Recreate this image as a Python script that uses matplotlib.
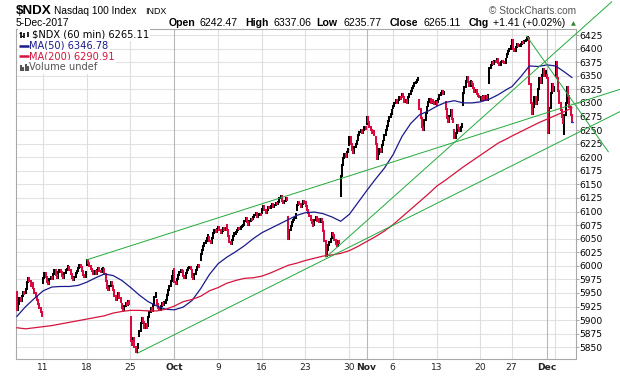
import matplotlib
matplotlib.use("Agg")
import matplotlib.pyplot as plt
import numpy as np
from matplotlib.lines import Line2D
from matplotlib.patches import Rectangle

# ---------------- data ----------------
# first-bar open of each trading day (Sep 6 .. Dec 5, 2017)
day_open = [5952, 5950, 5958,
            5968, 5980, 5992, 5998, 5990,
            6002, 5990, 5994, 5962, 5930,
            5906, 5870, 5890, 5938, 5932,
            5995, 5990, 5992, 6010, 6054,
            6068, 6075, 6058, 6076, 6086,
            6098, 6106, 6118, 6090, 6102,
            6118, 6076, 6080, 6052, 6128,
            6222, 6232, 6262, 6238, 6232,
            6290, 6312, 6316, 6305, 6295,
            6296, 6302, 6250, 6296, 6338,
            6306, 6336, 6380, 6384,
            6408, 6404, 6420, 6306, 6352,
            6350, 6242.47]
# number of 60-min bars per day (Nov 24 half session)
day_bars = [7] * 56 + [4] + [7] * 7

# hourly closes, week by week
c_sep06 = [5918, 5930, 5940, 5935, 5945, 5952, 5948,
           5958, 5970, 5978, 5972, 5962, 5968, 5960,
           5950, 5945, 5938, 5930, 5922, 5915, 5908]
c_sep11 = [5978, 5986, 5980, 5970, 5966, 5975, 5980,
           5975, 5985, 5992, 5984, 5978, 5988, 5992,
           5988, 5982, 5978, 5986, 5992, 5995, 6000,
           5992, 5985, 5978, 5974, 5980, 5986, 5990,
           5996, 6002, 5998, 5990, 5984, 5980, 5988]
c_sep18 = [6010, 6006, 6000, 5995, 5990, 5985, 5990,
           5985, 5992, 5996, 5990, 5988, 5994, 5996,
           5985, 5972, 5960, 5955, 5962, 5970, 5966,
           5955, 5945, 5938, 5945, 5950, 5940, 5934,
           5922, 5918, 5926, 5932, 5928, 5935, 5930]
c_sep25 = [5862, 5855, 5868, 5850, 5842, 5848, 5856,
           5880, 5894, 5904, 5896, 5886, 5892, 5886,
           5905, 5915, 5922, 5916, 5928, 5942, 5950,
           5930, 5922, 5918, 5926, 5932, 5928, 5934,
           5938, 5946, 5955, 5962, 5972, 5982, 5990]
c_oct02 = [5970, 5966, 5976, 5984, 5988, 5992, 5990,
           5982, 5978, 5986, 5992, 5996, 5998, 5995,
           5980, 5976, 5985, 5992, 5998, 6002, 5998,
           6022, 6030, 6036, 6042, 6046, 6052, 6056,
           6046, 6042, 6052, 6060, 6066, 6062, 6068]
c_oct09 = [6072, 6066, 6060, 6064, 6070, 6066, 6070,
           6066, 6055, 6044, 6040, 6048, 6055, 6060,
           6062, 6066, 6070, 6067, 6072, 6074, 6076,
           6082, 6088, 6080, 6075, 6082, 6086, 6084,
           6090, 6094, 6097, 6090, 6093, 6096, 6094]
c_oct16 = [6104, 6110, 6102, 6097, 6103, 6109, 6107,
           6110, 6114, 6108, 6112, 6116, 6114, 6117,
           6124, 6128, 6120, 6115, 6120, 6125, 6122,
           6050, 6066, 6074, 6080, 6084, 6088, 6095,
           6112, 6118, 6114, 6108, 6114, 6120, 6116]
c_oct23 = [6110, 6103, 6098, 6092, 6085, 6078, 6074,
           6084, 6090, 6082, 6087, 6080, 6086, 6083,
           6065, 6045, 6018, 6030, 6038, 6044, 6050,
           6060, 6056, 6048, 6040, 6036, 6046, 6042,
           6165, 6185, 6198, 6205, 6200, 6210, 6216]
c_oct30 = [6238, 6225, 6214, 6208, 6218, 6225, 6230,
           6240, 6246, 6250, 6244, 6250, 6255, 6252,
           6274, 6264, 6256, 6250, 6244, 6248, 6240,
           6225, 6196, 6206, 6216, 6210, 6222, 6230,
           6240, 6250, 6258, 6266, 6274, 6280, 6286]
c_nov06 = [6295, 6300, 6306, 6300, 6305, 6310, 6308,
           6316, 6310, 6302, 6306, 6300, 6310, 6316,
           6322, 6328, 6332, 6336, 6338, 6342, 6346,
           6288, 6272, 6255, 6250, 6268, 6282, 6292,
           6302, 6308, 6300, 6306, 6302, 6298, 6304]
c_nov13 = [6302, 6308, 6314, 6318, 6322, 6316, 6320,
           6288, 6272, 6265, 6276, 6286, 6270, 6264,
           6235, 6245, 6260, 6254, 6248, 6256, 6262,
           6318, 6330, 6340, 6347, 6338, 6332, 6340,
           6334, 6328, 6320, 6324, 6316, 6312, 6310]
c_nov20 = [6310, 6305, 6312, 6308, 6312, 6306, 6314,
           6364, 6370, 6375, 6372, 6378, 6376, 6380,
           6374, 6370, 6375, 6378, 6376, 6374, 6380,
           6390, 6395, 6400, 6404]
c_nov27 = [6416, 6400, 6396, 6402, 6408, 6404, 6406,
           6408, 6412, 6410, 6414, 6416, 6420, 6422,
           6335, 6300, 6280, 6292, 6310, 6298, 6304,
           6325, 6345, 6336, 6352, 6362, 6350, 6358,
           6346, 6245, 6290, 6318, 6334, 6322, 6330]
c_dec04 = [6376, 6345, 6322, 6300, 6286, 6274, 6263.70,
           6278, 6300, 6330, 6312, 6292, 6278, 6265.11]

# moving averages read at the start of each day (+ last bar)
ma50 = [5907, 5925, 5940, 5954, 5961, 5962, 5962, 5964, 5970, 5978,
        5985, 5982, 5973, 5960, 5946, 5934, 5926, 5920, 5919, 5924,
        5936, 5958, 5984, 6004, 6016, 6026, 6037, 6050, 6061, 6069,
        6077, 6085, 6093, 6098, 6099, 6096, 6090, 6082, 6095, 6117,
        6139, 6160, 6180, 6205, 6238, 6262, 6278, 6285, 6294, 6301,
        6304, 6300, 6300, 6302, 6307, 6315, 6325, 6330, 6348, 6368,
        6367, 6370, 6368, 6357, 6346.78]
ma200 = [5886, 5884, 5886, 5888, 5890, 5893, 5896, 5899, 5902, 5905,
         5908, 5913, 5916, 5918, 5918, 5917, 5917, 5920, 5926, 5934,
         5938, 5944, 5954, 5960, 5968, 5973, 5977, 5978, 5981, 5987,
         5994, 6001, 6005, 6010, 6014, 6018, 6020, 6023, 6028, 6036,
         6045, 6054, 6064, 6076, 6090, 6104, 6118, 6132, 6147, 6158,
         6170, 6182, 6193, 6204, 6215, 6226, 6234, 6239, 6247, 6255,
         6263, 6270, 6277, 6284, 6290.91]

# hand-drawn trend lines: (bar index, price) endpoints
trend_lines = [((55.8, 6011), (482.5, 6325)),
               ((96.3, 5839), (482.5, 6284)),
               ((247.3, 6016), (475.8, 6486)),
               ((407.8, 6423), (473.1, 6210))]

# x-axis: day number of labelled gridlines
tick_days = [3, 8, 13, 18, 23, 28, 33, 38, 40, 43, 48, 53, 57, 61]
tick_text = ["11", "18", "25", "Oct", "9", "16", "23", "30", "Nov",
             "6", "13", "20", "27", "Dec"]
month_days = [18, 40, 61]
extra_grid_days = [62]
y_ticks = list(range(5850, 6426, 25))

# ---------------- figure ----------------
W, H = 620, 376
fig = plt.figure(figsize=(W / 100, H / 100), dpi=100, facecolor="white")


def fx(px):
    return px / W


def fy(py):
    return 1 - py / H


L, R, T, B = 16.3, 576.0, 29.3, 359.3
ax = fig.add_axes([fx(L), fy(B), (R - L) / W, (B - T) / H])

closes = np.concatenate([c_sep06, c_sep11, c_sep18, c_sep25, c_oct02, c_oct09,
                         c_oct16, c_oct23, c_oct30, c_nov06, c_nov13, c_nov20,
                         c_nov27, c_dec04]).astype(float)
n = len(closes)
idx = np.arange(n)
day_start = np.cumsum([0] + day_bars[:-1])
opens = np.r_[closes[0], closes[:-1]]
opens[day_start] = day_open
prev = np.r_[day_open[0], closes[:-1]]
up = closes >= prev
lo = np.minimum(opens, closes)
hi = np.maximum(opens, closes)

bar_w = 1.45
lc1 = ax.vlines(idx[up], lo[up], hi[up], color="black", lw=bar_w, zorder=4)
lc2 = ax.vlines(idx[~up], lo[~up], hi[~up], color="#da0a40", lw=bar_w, zorder=4)
for lc in (lc1, lc2):
    lc.set_capstyle("projecting")

ma_x = np.r_[day_start, n - 1]
ax.plot(ma_x, ma50, color="#1a1a8e", lw=0.9, zorder=5)
ax.plot(ma_x, ma200, color="#d4143c", lw=0.9, zorder=5)

ax.plot([n - 1.5, n + 3], [closes[-1], closes[-1]], color="#1030ff",
        lw=0.9, ls=(0, (2, 1.5)), zorder=5)

for (x0, y0), (x1, y1) in trend_lines:
    ax.add_line(Line2D([x0, x1], [y0, y1], color="#22aa3a", lw=0.7,
                       zorder=6, clip_on=False))

ax.set_xlim(-0.5, -0.5 + (R - L) / 1.25)
ax.set_ylim(5827.9, 6435.5)

# grid
for v in y_ticks:
    ax.axhline(v, color="#e2e2e2", lw=0.8, zorder=1)
grid_days = tick_days + extra_grid_days
for d in grid_days:
    xg = day_start[d] - 0.3
    c = "#b8b8b8" if d in month_days else "#dedede"
    ax.axvline(xg, color=c, lw=0.8, zorder=1)

for s in ax.spines.values():
    s.set_color("#a8a8a8")
    s.set_linewidth(0.8)

ax.yaxis.tick_right()
ax.set_yticks(y_ticks)
ax.set_yticklabels([str(v) for v in y_ticks])
ax.tick_params(axis="y", length=2.0, width=0.6, color="#999999", pad=0.6,
               labelsize=6.6, labelcolor="black")
ax.set_xticks([day_start[d] - 0.3 for d in tick_days])
ax.set_xticklabels(tick_text)
ax.tick_params(axis="x", length=0, pad=2.6, labelsize=6.6, labelcolor="#222222")
for lab, d in zip(ax.get_xticklabels(), tick_days):
    if d in month_days:
        lab.set_fontweight("bold")
for lab in ax.get_yticklabels() + ax.get_xticklabels():
    lab.set_family("DejaVu Sans")

# ---------------- header texts ----------------
AR = "Liberation Sans"
fig.text(fx(15.5), fy(13.5), "$NDX", family=AR, weight="bold", size=9.6,
         va="baseline")
fig.text(fx(54), fy(13.5), "Nasdaq 100 Index", family=AR, size=7.3,
         va="baseline")
fig.text(fx(145.5), fy(13.5), "INDX", family=AR, size=6.4, va="baseline")
fig.text(fx(576.5), fy(13.5), "\u00a9 StockCharts.com", family=AR, size=7.3,
         color="#555555", ha="right", va="baseline")
fig.text(fx(16), fy(26.3), "5-Dec-2017", family=AR, size=7.4, va="baseline")

hdr = [(168.3, "Open", "bold"), (199.5, "6242.47", "normal"),
       (245.0, "High", "bold"), (273.5, "6337.06", "normal"),
       (316.5, "Low", "bold"), (343.0, "6235.77", "normal"),
       (389.3, "Close", "bold"), (423.0, "6265.11", "normal"),
       (469.0, "Chg", "bold"), (493.0, "+1.41 (+0.02%)", "normal")]
for px, s, w in hdr:
    fig.text(fx(px), fy(26.3), s, family=AR, size=7.6, weight=w,
             va="baseline")
fig.text(fx(573.3), fy(25.6), "\u25b2", family="DejaVu Sans", size=4.6,
         color="#2a8a2a", ha="center", va="baseline")

# ---------------- in-chart legend ----------------
box = dict(facecolor="white", edgecolor="none", pad=1.2)
fig.text(fx(31.5), fy(37.7), "$NDX (60 min) 6265.11", family="DejaVu Sans",
         size=7.1, va="baseline", color="black", bbox=box, zorder=5)
fig.text(fx(29), fy(48.6), "MA(50) 6346.78", family="DejaVu Sans", size=7.1,
         va="baseline", color="#1a1a8e", bbox=box, zorder=5)
fig.text(fx(29), fy(59.3), "MA(200) 6290.91", family="DejaVu Sans", size=7.1,
         va="baseline", color="#d4143c", bbox=box, zorder=5)
fig.text(fx(29), fy(70.0), "Volume undef", family="DejaVu Sans", size=7.1,
         va="baseline", color="#555555", bbox=box, zorder=5)

# legend glyphs (pixel layout)
def seg(x0, y0, x1, y1, c, lw):
    fig.add_artist(Line2D([fx(x0), fx(x1)], [fy(y0), fy(y1)], color=c, lw=lw,
                          transform=fig.transFigure, zorder=6,
                          solid_capstyle="butt"))

fig.add_artist(Rectangle((fx(18), fy(73)), fx(12), 44 / H, facecolor="white",
                         edgecolor="none", transform=fig.transFigure, zorder=5))
for xb, y0, y1 in [(21, 31.5, 37.5), (24.5, 32.5, 37.5), (28, 31.5, 36.5)]:
    seg(xb, y0, xb, y1, "black", 1.2)
seg(19.5, 33, 21, 33, "black", 0.8)
seg(21, 36, 22.5, 36, "black", 0.8)
seg(19.3, 45.6, 28.5, 45.6, "#1a1a8e", 1.8)
seg(19.3, 56.3, 28.5, 56.3, "#d4143c", 1.8)
for xb, y0 in [(20.5, 65), (23.0, 67), (25.5, 64), (28.0, 66)]:
    seg(xb, y0, xb, 70.5, "#555555", 1.5)

fig.savefig("out.png", dpi=100, facecolor="white")
